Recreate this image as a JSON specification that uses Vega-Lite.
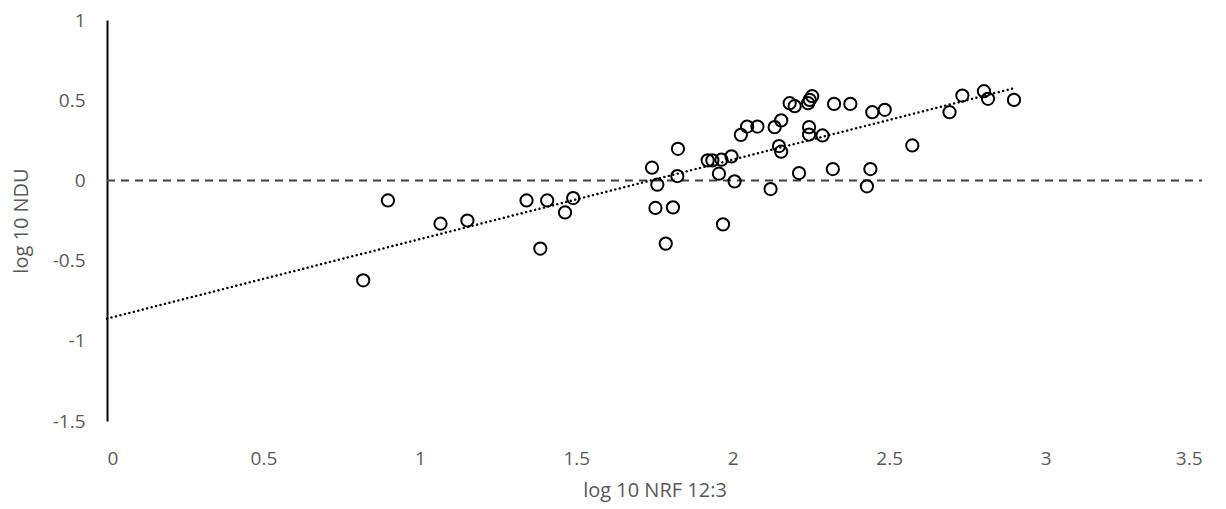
{
  "$schema": "https://vega.github.io/schema/vega-lite/v6.json",
  "width": 1095,
  "height": 401,
  "autosize": "none",
  "padding": {"left": 107, "top": 20, "right": 24, "bottom": 88},
  "background": "white",
  "config": {"view": {"stroke": null}, "font": "Open Sans"},
  "datasets": {
    "pts": [
      {"x": 0.819, "y": -0.623}, {"x": 0.898, "y": -0.125}, {"x": 1.066, "y": -0.27}, {"x": 1.152, "y": -0.25},
      {"x": 1.341, "y": -0.125}, {"x": 1.385, "y": -0.425}, {"x": 1.407, "y": -0.125}, {"x": 1.464, "y": -0.2},
      {"x": 1.49, "y": -0.11}, {"x": 1.742, "y": 0.079}, {"x": 1.759, "y": -0.027}, {"x": 1.753, "y": -0.172},
      {"x": 1.809, "y": -0.168}, {"x": 1.786, "y": -0.394}, {"x": 1.825, "y": 0.197}, {"x": 1.823, "y": 0.027},
      {"x": 1.92, "y": 0.125}, {"x": 1.935, "y": 0.125}, {"x": 1.964, "y": 0.129}, {"x": 1.996, "y": 0.15},
      {"x": 1.956, "y": 0.042}, {"x": 2.006, "y": -0.006}, {"x": 1.969, "y": -0.274}, {"x": 2.026, "y": 0.284},
      {"x": 2.046, "y": 0.336}, {"x": 2.079, "y": 0.336}, {"x": 2.134, "y": 0.332}, {"x": 2.155, "y": 0.374},
      {"x": 2.148, "y": 0.214}, {"x": 2.155, "y": 0.179}, {"x": 2.121, "y": -0.054}, {"x": 2.182, "y": 0.481},
      {"x": 2.198, "y": 0.463}, {"x": 2.241, "y": 0.481}, {"x": 2.246, "y": 0.502}, {"x": 2.254, "y": 0.525},
      {"x": 2.244, "y": 0.332}, {"x": 2.244, "y": 0.286}, {"x": 2.287, "y": 0.28}, {"x": 2.212, "y": 0.046},
      {"x": 2.324, "y": 0.477}, {"x": 2.376, "y": 0.477}, {"x": 2.32, "y": 0.071}, {"x": 2.446, "y": 0.425},
      {"x": 2.486, "y": 0.44}, {"x": 2.44, "y": 0.071}, {"x": 2.429, "y": -0.037}, {"x": 2.574, "y": 0.218},
      {"x": 2.693, "y": 0.425}, {"x": 2.734, "y": 0.529}, {"x": 2.803, "y": 0.556}, {"x": 2.816, "y": 0.509},
      {"x": 2.899, "y": 0.502}
    ],
    "zero": [{"x": 0, "y": 0}, {"x": 3.5, "y": 0}]
  },
  "layer": [
    {
      "data": {"name": "zero"},
      "mark": {"type": "line", "color": "#404040", "strokeWidth": 2, "strokeDash": [8, 6]},
      "encoding": {
        "x": {"field": "x", "type": "quantitative"},
        "y": {"field": "y", "type": "quantitative"}
      }
    },
    {
      "data": {"name": "pts"},
      "transform": [{"regression": "y", "on": "x", "extent": [0, 2.9]}],
      "mark": {"type": "line", "color": "black", "strokeWidth": 2.4, "strokeDash": [0.1, 4.5], "strokeCap": "round"},
      "encoding": {
        "x": {"field": "x", "type": "quantitative"},
        "y": {"field": "y", "type": "quantitative"}
      }
    },
    {
      "data": {"name": "pts"},
      "mark": {"type": "point", "shape": "circle", "filled": false, "stroke": "black", "strokeWidth": 2, "size": 150, "opacity": 1},
      "encoding": {
        "x": {
          "field": "x", "type": "quantitative",
          "scale": {"domain": [0, 3.5], "nice": false, "zero": false},
          "axis": {
            "title": "log 10 NRF 12:3", "values": [0, 0.5, 1, 1.5, 2, 2.5, 3, 3.5],
            "labelExpr": "'' + datum.value", "domain": false, "ticks": false, "grid": false,
            "labelPadding": 28, "labelFontSize": 19, "labelColor": "#595959",
            "titleFontSize": 20, "titleColor": "#595959", "titleFontWeight": "normal", "titlePadding": 12
          }
        },
        "y": {
          "field": "y", "type": "quantitative",
          "scale": {"domain": [-1.5, 1], "nice": false, "zero": false},
          "axis": {
            "title": "log 10 NDU", "values": [-1.5, -1, -0.5, 0, 0.5, 1],
            "labelExpr": "'' + datum.value", "domain": true, "domainColor": "black", "domainWidth": 2,
            "ticks": false, "grid": false, "labelPadding": 22, "labelFontSize": 19, "labelColor": "#595959",
            "titleFontSize": 20, "titleColor": "#595959", "titleFontWeight": "normal", "titlePadding": 21
          }
        }
      }
    }
  ]
}
